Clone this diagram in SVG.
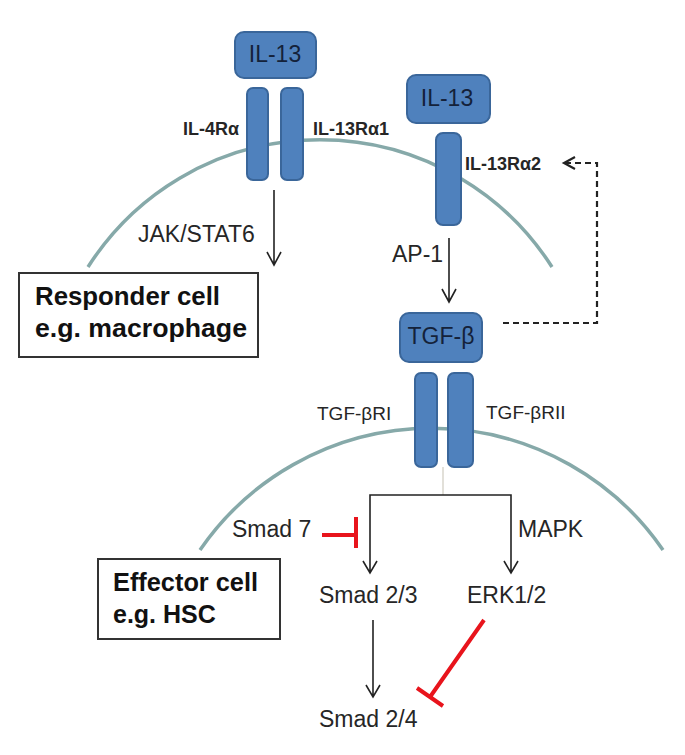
<svg xmlns="http://www.w3.org/2000/svg" width="685" height="755" viewBox="0 0 685 755">
<defs>
<style>
.mem{fill:none;stroke:#86a9a9;stroke-width:3.5}
.blue{fill:#4f81bd;stroke:#3a669a;stroke-width:2}
.btxt{font-family:"Liberation Sans",Arial,sans-serif;font-size:23px;fill:#14223a;text-anchor:middle}
.rlab{font-family:"Liberation Sans",Arial,sans-serif;font-size:18px;font-weight:bold;fill:#262626}
.lab{font-family:"Liberation Sans",Arial,sans-serif;font-size:23px;fill:#262626}
.slab{font-family:"Liberation Sans",Arial,sans-serif;font-size:19px;fill:#262626}
.box{fill:#fff;stroke:#333;stroke-width:2}
.boxt{font-family:"Liberation Sans",Arial,sans-serif;font-size:25px;font-weight:bold;fill:#111}
.ln{fill:none;stroke:#222;stroke-width:1.6}
.dash{fill:none;stroke:#222;stroke-width:2.2;stroke-dasharray:6 4}
.inh{fill:none;stroke:#e8141c;stroke-width:4}
</style>
</defs>
<rect width="685" height="755" fill="#fff"/>

<g id="membranes">
<path class="mem" d="M88 267 A275 275 0 0 1 552 267"/>
<path class="mem" d="M200 550 A281 281 0 0 1 663 550"/>
</g>

<g id="il13-top">
<rect class="blue" x="235" y="32" width="81" height="46" rx="9"/>
<text class="btxt" x="275" y="62">IL-13</text>
</g>
<g id="il4ra">
<rect class="blue" x="247" y="88" width="21" height="92" rx="6"/>
<text class="rlab" x="183" y="135">IL-4Rα</text>
</g>
<g id="il13ra1">
<rect class="blue" x="281" y="88" width="22" height="92" rx="6"/>
<text class="rlab" x="313" y="135">IL-13Rα1</text>
</g>
<g id="il13-right">
<rect class="blue" x="407" y="75" width="83" height="48" rx="9"/>
<text class="btxt" x="447" y="106">IL-13</text>
</g>
<g id="il13ra2">
<rect class="blue" x="436" y="133" width="25" height="92" rx="7"/>
<text class="rlab" x="465" y="170">IL-13Rα2</text>
</g>
<g id="responder">
<rect class="box" x="19" y="273" width="239" height="84"/>
<text class="boxt" x="35" y="305" textLength="185" lengthAdjust="spacingAndGlyphs">Responder cell</text>
<text class="boxt" x="35" y="337" textLength="212" lengthAdjust="spacingAndGlyphs">e.g. macrophage</text>
</g>
<g id="tgfb">
<rect class="blue" x="400" y="313" width="82" height="49" rx="9"/>
<text class="btxt" x="441" y="344">TGF-β</text>
</g>
<g id="tgfbri">
<rect class="blue" x="415" y="373" width="22" height="94" rx="6"/>
<text class="slab" x="317" y="420">TGF-βRI</text>
</g>
<g id="tgfbrii">
<rect class="blue" x="448" y="373" width="25" height="94" rx="6"/>
<text class="slab" x="486" y="419">TGF-βRII</text>
</g>
<g id="effector">
<rect class="box" x="98" y="559" width="182" height="80"/>
<text class="boxt" x="113" y="591" textLength="145" lengthAdjust="spacingAndGlyphs">Effector cell</text>
<text class="boxt" x="113" y="623">e.g. HSC</text>
</g>
<g id="smad7"><text class="lab" x="232" y="537">Smad 7</text></g>
<g id="smad23"><text class="lab" x="319" y="603">Smad 2/3</text></g>
<g id="erk"><text class="lab" x="467" y="603">ERK1/2</text></g>
<g id="smad24"><text class="lab" x="319" y="727">Smad 2/4</text></g>

<g id="connectors">
<path class="ln" d="M274 190 V265 M267 252 L274 265 L281 252"/>
<text class="lab" x="138" y="242">JAK/STAT6</text>
<path class="ln" d="M449 238 V302 M442 289 L449 302 L456 289"/>
<text class="lab" x="392" y="262">AP-1</text>
<path class="dash" d="M503 323 H597 V163 H566"/>
<path fill="none" stroke="#222" stroke-width="2.2" d="M575 157 L564 163 L575 169"/>
<path fill="none" stroke="#d9d6cc" stroke-width="1.5" d="M443 467 V495"/>
<path class="ln" d="M370 573 V495 H511 V573 M363 561 L370 573 L377 561 M504 561 L511 573 L518 561"/>
<text class="lab" x="518" y="537">MAPK</text>
<path class="inh" d="M322 535 H356 M356 517 V548"/>
<path class="ln" d="M373 620 V697 M366 685 L373 697 L380 685"/>
<path class="inh" d="M484 620 L430 697 M417 688 L443 706"/>
</g>
</svg>
